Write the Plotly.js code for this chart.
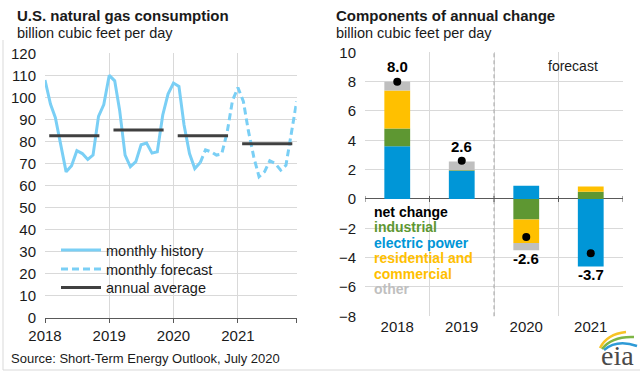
<!DOCTYPE html>
<html><head><meta charset="utf-8">
<script src="https://cdn.plot.ly/plotly-3.0.1.min.js"></script>
<style>html,body{margin:0;padding:0;background:#fff}#chart{width:640px;height:374px}</style>
</head><body><div id="chart"></div>
<script>
// ---------- data ----------
const historyValues = [107.9, 97.0, 90.8, 78.0, 66.2, 69.0, 75.8, 74.5, 71.8, 73.8, 91.4, 96.7,
                       110.0, 107.5, 94.2, 73.8, 68.5, 70.8, 78.5, 79.3, 74.7, 75.3, 92.0, 101.5,
                       106.5, 105.0, 87.5, 74.5, 67.7, 70.4];
const forecastValues = [70.4, 76.2, 75.3, 73.8, 74.3, 84.2, 98.5,
                        104.4, 98.2, 85.0, 73.0, 64.0, 66.2, 71.2, 70.0, 67.0, 69.2, 83.6, 98.2];
const avgYears = [2018, 2019, 2020, 2021];
const annualAverage = [82.6, 85.2, 82.6, 78.9];
const xTickYears = ['2018', '2019', '2020', '2021'];

const changeYears = ['2018', '2019', '2020', '2021'];
const electricPower = [3.6, 1.9, 0.9, -4.6];
const industrial = [1.2, 0.06, -1.4, 0.5];
const residentialCommercial = [2.6, 0.0, -1.6, 0.35];
const other = [0.6, 0.6, -0.5, 0.0];
const netChange = [8.0, 2.6, -2.6, -3.7];

// ---------- helpers ----------
function monthDate(i) {
  const y = 2018 + Math.floor(i / 12), m = (i % 12) + 1;
  return y + '-' + String(m).padStart(2, '0') + '-01';
}
const histX = historyValues.map((_, i) => monthDate(i));
const foreStart = historyValues.length - 1;
const foreX = forecastValues.map((_, i) => monthDate(foreStart + i));

const avgX = [], avgY = [];
avgYears.forEach((yr, i) => {
  avgX.push(yr + '-01-25', yr + '-11-06', null);
  avgY.push(annualAverage[i], annualAverage[i], null);
});

const FONT = 'Liberation Sans, Arial, sans-serif';
const TXT = '#1a1a1a';
const GRID = '#D9D9D9';
const AXIS = '#595959';
const COLORS = {elec: '#0096D7', ind: '#5E9732', res: '#FFC000', oth: '#BFBFBF'};

const traces = [
  {x: histX, y: historyValues, type: 'scatter', mode: 'lines', name: 'monthly history', legend: 'legend',
   line: {color: '#7ACFF5', width: 3}, xaxis: 'x', yaxis: 'y'},
  {x: foreX, y: forecastValues, type: 'scatter', mode: 'lines', name: 'monthly forecast', legend: 'legend2',
   line: {color: '#7ACFF5', width: 3, dash: '7px,4px'}, xaxis: 'x', yaxis: 'y'},
  {x: avgX, y: avgY, type: 'scatter', mode: 'lines', name: 'annual average', legend: 'legend3',
   line: {color: '#404040', width: 3}, connectgaps: false, xaxis: 'x', yaxis: 'y'},
  {x: changeYears, y: electricPower, type: 'bar', name: 'electric power', marker: {color: COLORS.elec},
   xaxis: 'x2', yaxis: 'y2', showlegend: false},
  {x: changeYears, y: industrial, type: 'bar', name: 'industrial', marker: {color: COLORS.ind},
   xaxis: 'x2', yaxis: 'y2', showlegend: false},
  {x: changeYears, y: residentialCommercial, type: 'bar', name: 'residential and commercial', marker: {color: COLORS.res},
   xaxis: 'x2', yaxis: 'y2', showlegend: false},
  {x: changeYears, y: other, type: 'bar', name: 'other', marker: {color: COLORS.oth},
   xaxis: 'x2', yaxis: 'y2', showlegend: false},
  {x: changeYears, y: netChange, type: 'scatter', mode: 'markers', name: 'net change',
   marker: {color: '#000', size: 8}, xaxis: 'x2', yaxis: 'y2', showlegend: false}
];

const W = 640, H = 374;
const px = v => v / W, py = v => 1 - v / H;

const annotations = [];
function txt(x, y, text, size, opts) {
  annotations.push(Object.assign({xref: 'paper', yref: 'paper', x: px(x), y: py(y), text: text,
    showarrow: false, xanchor: 'left', yanchor: 'middle',
    font: {family: FONT, size: size, color: TXT}}, opts || {}));
}
txt(15, 15, '<b>U.S. natural gas consumption</b>', 15);
txt(15, 33, 'billion cubic feet per day', 14.5);
txt(334, 15, '<b>Components of annual change</b>', 15);
txt(334, 33, 'billion cubic feet per day', 14.5);
txt(9, 358, 'Source: Short-Term Energy Outlook, July 2020', 13);
txt(573, 66, 'forecast', 14, {xanchor: 'center'});

// right legend (text only, coloured)
const legendItems = [
  ['net change', '#000000'], ['industrial', COLORS.ind], ['electric power', COLORS.elec],
  ['residential and', COLORS.res], ['commercial', COLORS.res], ['other', COLORS.oth]
];
legendItems.forEach((it, i) => {
  txt(372, 212 + i * 15.4, '<b>' + it[0] + '</b>', 14, {font: {family: FONT, size: 14, color: it[1]}});
});

// net change labels (x given as category index)
changeYears.forEach((yr, i) => {
  const comps = [electricPower[i], industrial[i], residentialCommercial[i], other[i]];
  const pos = comps.filter(v => v > 0).reduce((a, b) => a + b, 0);
  const neg = comps.filter(v => v < 0).reduce((a, b) => a + b, 0);
  const up = netChange[i] >= 0;
  annotations.push({xref: 'x2', yref: 'y2', x: i, y: up ? pos : neg, text: '<b>' + netChange[i].toFixed(1) + '</b>',
    showarrow: false, xanchor: 'center', yanchor: 'middle', yshift: up ? 15 : -8,
    font: {family: FONT, size: 15, color: '#000'}});
});

// eia logo text
annotations.push({xref: 'paper', yref: 'paper', x: px(617), y: py(355), text: 'eia', showarrow: false,
  xanchor: 'center', yanchor: 'middle', font: {family: 'Liberation Serif, DejaVu Serif, serif', size: 28, color: '#4a4a4a'}});

function pth(pts) { // pts: [[x,y],[cx,cy],[x,y]] in px
  return 'M' + px(pts[0][0]) + ',' + py(pts[0][1]) + ' Q' + px(pts[1][0]) + ',' + py(pts[1][1]) + ' ' + px(pts[2][0]) + ',' + py(pts[2][1]);
}
const shapes = [
  {type: 'line', xref: 'x2', yref: 'y2 domain', x0: 1.5, x1: 1.5, y0: 0, y1: 1,
   line: {color: '#A6A6A6', width: 1, dash: '4px,3px'}},
  {type: 'line', xref: 'paper', yref: 'paper', x0: px(3), x1: px(3), y0: py(40), y1: py(370), line: {color: '#D9D9D9', width: 1}},
  {type: 'line', xref: 'paper', yref: 'paper', x0: px(3), x1: 1, y0: py(370), y1: py(370), line: {color: '#D9D9D9', width: 1}},
  {type: 'path', xref: 'paper', yref: 'paper', path: pth([[600, 348], [607, 334], [626, 332]]), line: {color: '#F7C325', width: 2.5}},
  {type: 'path', xref: 'paper', yref: 'paper', path: pth([[602, 349], [612, 336], [634, 337]]), line: {color: '#7DB544', width: 2.5}},
  {type: 'path', xref: 'paper', yref: 'paper', path: pth([[604, 350], [617, 339], [637, 346]]), line: {color: '#2E9AD6', width: 2.5}}
];
[-0.5, 0.5, 1.5, 2.5, 3.5].forEach(b => {
  shapes.push({type: 'line', xref: 'x2', yref: 'y2', x0: b, x1: b, ysizemode: 'pixel', yanchor: 0, y0: -3, y1: 3,
    line: {color: AXIS, width: 1}});
});

function legendAt(yPix) {
  return {x: px(56), y: py(yPix), xanchor: 'left', yanchor: 'middle', bgcolor: 'rgba(0,0,0,0)',
    font: {family: FONT, size: 14.5, color: TXT}, itemwidth: 40};
}

const layout = {
  width: W, height: H, margin: {l: 0, r: 0, t: 0, b: 0},
  paper_bgcolor: '#fff', plot_bgcolor: '#fff',
  font: {family: FONT, size: 15, color: TXT},
  barmode: 'relative', bargap: 0.6,
  xaxis: {type: 'date', domain: [px(45), px(296.7)], anchor: 'y', range: [monthDate(0), monthDate(47)],
    tickvals: xTickYears.map(y => y + '-01-01').concat([monthDate(47)]), ticktext: xTickYears.concat(['']),
    showgrid: true, gridcolor: GRID, gridwidth: 1, ticks: 'outside', ticklen: 4, tickcolor: AXIS,
    showline: true, linecolor: AXIS, linewidth: 1, zeroline: false, tickfont: {size: 15}, fixedrange: true},
  yaxis: {domain: [1 - 317.7 / H, 1 - 53.3 / H], anchor: 'x', range: [0, 120], dtick: 10,
    showgrid: true, gridcolor: GRID, zeroline: false, showline: false, ticks: '', ticklabelstandoff: 8,
    tickfont: {size: 15}},
  xaxis2: {type: 'category', domain: [px(365), px(623)], anchor: 'y2', range: [-0.5, 3.5],
    tickson: 'boundaries', showgrid: true, gridcolor: GRID, ticks: '', showline: false, zeroline: false,
    tickfont: {size: 15}},
  yaxis2: {domain: [1 - 316.3 / H, 1 - 52.3 / H], anchor: 'x2', range: [-8, 10], dtick: 2,
    showgrid: true, gridcolor: GRID, zeroline: true, zerolinecolor: AXIS, zerolinewidth: 1,
    showline: false, ticks: '', ticklabelstandoff: 8, tickfont: {size: 15}},
  showlegend: true,
  legend: legendAt(250),
  legend2: legendAt(269),
  legend3: legendAt(287.5),
  annotations: annotations, shapes: shapes
};

Plotly.newPlot('chart', traces, layout, {staticPlot: true, displayModeBar: false});
</script></body></html>
